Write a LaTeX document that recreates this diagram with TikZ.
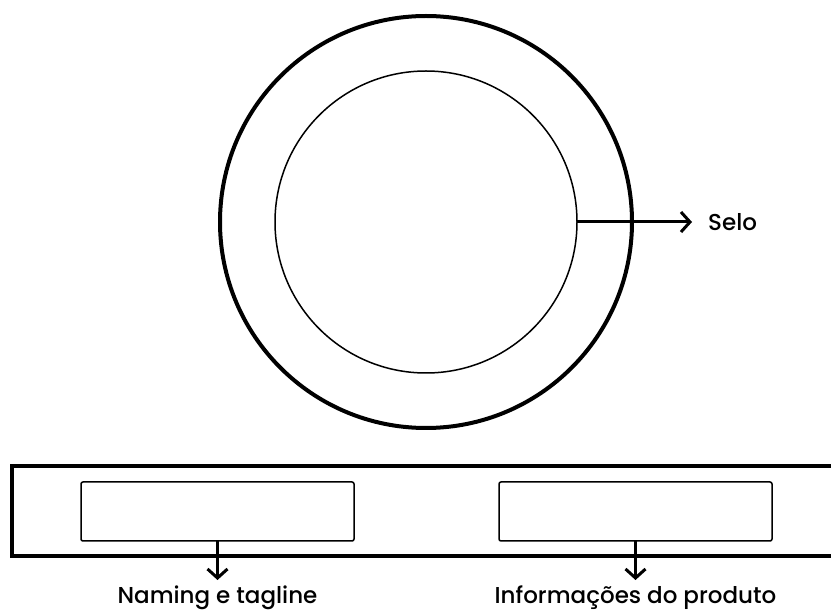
\documentclass[tikz,border=0pt]{standalone}
\usepackage{fontspec}
\setmainfont{Poppins}[UprightFont=* Medium]
\usepackage{tikz}
\usetikzlibrary{arrows.meta,positioning}

\begin{document}
\begin{tikzpicture}[x=1pt,y=-1pt,
  ring/.style={draw,circle,line width=4pt,minimum size=412pt,inner sep=0pt,outer sep=0pt},
  seal/.style={draw,circle,line width=1.5pt,minimum size=302pt,inner sep=0pt,outer sep=0pt},
  band/.style={draw,line width=4pt,minimum width=840pt,minimum height=90pt,
               inner sep=0pt,outer sep=0pt,anchor=west},
  slot/.style={draw,rounded corners=2pt,line width=1.5pt,minimum width=273pt,
               minimum height=59pt,inner sep=0pt,outer sep=0pt},
  lbl/.style={font=\fontsize{23}{28}\selectfont,inner sep=0pt},
  arrow/.style={-{Straight Barb[length=9pt,width=20pt]},line width=3pt}
]
\useasboundingbox (0,0) rectangle (831,612);
\clip (0,0) rectangle (831,612);

% seal
\node[ring] (outer) at (426,222) {};
\node[seal] (inner) at (outer.center) {};
\node[lbl, right=131pt of inner] (selo) {Selo};
\draw[arrow,shorten >=16pt] (inner.east) -- (selo.west);

% label band
\node[band] (band) at (12,511) {};
\node[slot] (nslot) at (217.5,511.5) {};
\node[slot] (islot) at (635.5,511.5) {};
\node[lbl, below=45pt of nslot] (nlbl) {Naming e tagline};
\node[lbl, below=45pt of islot] (ilbl) {Informações do produto};
\draw[arrow,shorten >=6pt] (nslot.south) -- (nlbl.north);
\draw[arrow,shorten >=6pt] (islot.south) -- (ilbl.north);
\end{tikzpicture}
\end{document}
